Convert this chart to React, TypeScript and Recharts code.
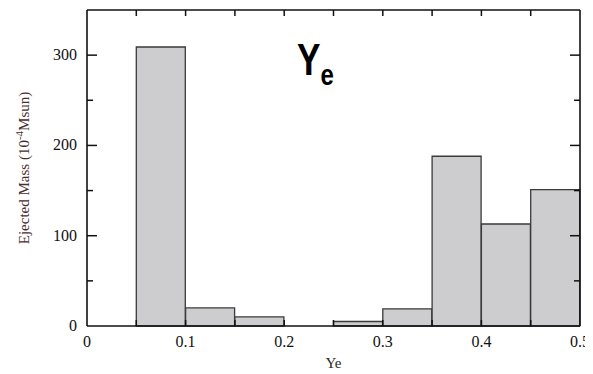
import React from 'react';
import { BarChart, Bar, XAxis, YAxis, Customized } from 'recharts';

// histogram bins (centre of each 0.05-wide Ye bin) and ejected mass per bin
const binCentres = [0.025, 0.075, 0.125, 0.175, 0.225, 0.275, 0.325, 0.375, 0.425, 0.475];
const ejectedMass = [0, 309, 20, 10, 0, 5, 19, 188, 113, 151];

const xTicks = [0, 0.05, 0.1, 0.15, 0.2, 0.25, 0.3, 0.35, 0.4, 0.45, 0.5];
const yTicks = [0, 50, 100, 150, 200, 250, 300, 350];
const yLabelled = [0, 100, 200, 300];

const data = binCentres.map((ye, i) => ({ ye, mass: ejectedMass[i] }));

const SERIF = '"Liberation Serif", "Times New Roman", serif';
const INK = '#111';
const LEFT_W = 87; // width of the left axis = x of the left frame edge

const isMajorX = (v: number) => Math.round(v * 100) % 10 === 0;

// bottom axis: inward tick + label on the 0.1 steps
const BottomTick = (props: any) => {
  const x = Number(props.x);
  const y = Number(props.y);
  const v = props.payload.value;
  return (
    <g>
      {v > 0 && v < 0.5 && <path d={`M${x},${y}V${y - 6}`} stroke={INK} strokeWidth={1.5} />}
      {isMajorX(v) && (
        <text x={x} y={y + 21} textAnchor="middle" fontFamily={SERIF} fontSize={16} fill={INK}>
          {String(v)}
        </text>
      )}
    </g>
  );
};

const TopTick = (props: any) => {
  const x = Number(props.x);
  const y = Number(props.y);
  const v = props.payload.value;
  if (v <= 0 || v >= 0.5) return <g />;
  return <path d={`M${x},${y}V${y + 6}`} stroke={INK} strokeWidth={1.5} />;
};

// left axis: labels only, 10px off the frame
const LeftTick = (props: any) => {
  const x = Number(props.x);
  const y = Number(props.y);
  const v = props.payload.value;
  if (!yLabelled.includes(v)) return <g />;
  return (
    <text x={x} y={y + 5} textAnchor="end" fontFamily={SERIF} fontSize={16} fill={INK}>
      {v}
    </text>
  );
};

// right axis draws the inward tick marks on both vertical frame edges
const RightTick = (props: any) => {
  const x = Number(props.x);
  const y = Number(props.y);
  const v = props.payload.value;
  if (v <= 0 || v >= 350) return <g />;
  const len = yLabelled.includes(v) ? 10 : 6;
  return (
    <g>
      <path d={`M${x},${y}H${x - len}`} stroke={INK} strokeWidth={1.5} />
      <path d={`M${LEFT_W},${y}H${LEFT_W + len}`} stroke={INK} strokeWidth={1.5} />
    </g>
  );
};

const YTitle = () => (
  <text
    x={24}
    y={168}
    transform="rotate(-90, 24, 168)"
    textAnchor="middle"
    dominantBaseline="central"
    fontFamily={SERIF}
    fontSize={15}
    fill="#4a2c2c"
  >
    Ejected Mass (10
    <tspan dy={-5} fontSize={11}>-4</tspan>
    <tspan dy={5}>Msun)</tspan>
  </text>
);

// condensed bold "Ye" tag in the upper middle of the plot
const YeMark = () => (
  <text
    x={0}
    y={0}
    transform="translate(297, 75) scale(0.8, 1)"
    fontFamily='"Liberation Sans", Arial, sans-serif'
    fontWeight="bold"
    fontSize={44}
    fill="#000"
  >
    Y
    <tspan dy={10} fontSize={30}>e</tspan>
  </text>
);

export default function App() {
  return (
    <div style={{ margin: '-8px 0 0 -8px', width: 593, height: 374 }}>
      <BarChart
        width={593}
        height={374}
        data={data}
        margin={{ top: 9, right: 12, left: 0, bottom: 0 }}
        barCategoryGap={0}
        barGap={0}
      >
        <XAxis
          dataKey="ye"
          type="number"
          domain={[0, 0.5]}
          ticks={xTicks}
          interval={0}
          height={48}
          tickSize={0}
          tickMargin={0}
          tickLine={false}
          tick={BottomTick}
          axisLine={{ stroke: INK, strokeWidth: 1.6 }}
          label={{ value: 'Ye', position: 'insideBottom', offset: 6, fontFamily: SERIF, fontSize: 15, fill: '#2a2a2a' }}
        />
        <XAxis
          xAxisId="top"
          dataKey="ye"
          orientation="top"
          type="number"
          domain={[0, 0.5]}
          ticks={xTicks}
          interval={0}
          height={1}
          tickSize={0}
          tickMargin={0}
          tickLine={false}
          tick={TopTick}
          axisLine={{ stroke: INK, strokeWidth: 1.6 }}
        />
        <YAxis
          type="number"
          domain={[0, 350]}
          ticks={yTicks}
          interval={0}
          width={LEFT_W}
          tickSize={0}
          tickMargin={10}
          tickLine={false}
          tick={LeftTick}
          axisLine={{ stroke: INK, strokeWidth: 1.6 }}
        />
        <YAxis
          yAxisId="right"
          orientation="right"
          type="number"
          domain={[0, 350]}
          ticks={yTicks}
          interval={0}
          width={1}
          tickSize={0}
          tickMargin={0}
          tickLine={false}
          tick={RightTick}
          axisLine={{ stroke: INK, strokeWidth: 1.6 }}
        />
        <Bar dataKey="mass" fill="#cdcdcf" stroke="#3a3a3a" strokeWidth={1.3} isAnimationActive={false} />
        {/* hidden twin series so the top and right frame axes get drawn */}
        <Bar
          xAxisId="top"
          yAxisId="right"
          dataKey="mass"
          fill="none"
          stroke="none"
          isAnimationActive={false}
        />
        <Customized component={YTitle} />
        <Customized component={YeMark} />
      </BarChart>
    </div>
  );
}
